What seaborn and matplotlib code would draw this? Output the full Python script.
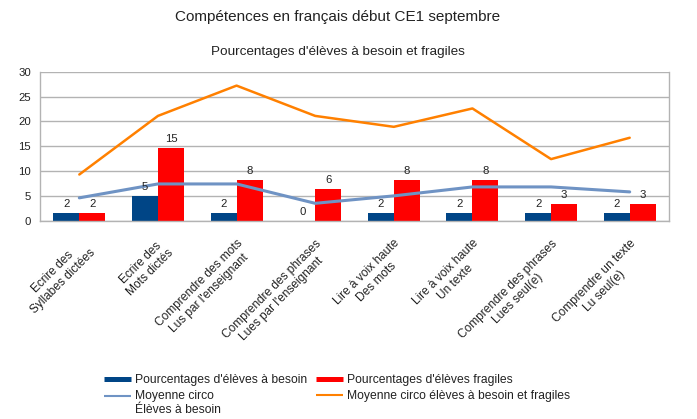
import numpy as np
import pandas as pd
import matplotlib
matplotlib.use("Agg")
import matplotlib.pyplot as plt
import matplotlib.transforms as mtransforms
from matplotlib.lines import Line2D
import seaborn as sns

# Competences evaluated
competences = [
    "Ecrire des\nSyllabes dictées",
    "Ecrire des\nMots dictés",
    "Comprendre des mots\nLus par l'enseignant",
    "Comprendre des phrases\nLues par l'enseignant",
    "Lire à voix haute\nDes mots",
    "Lire à voix haute\nUn texte",
    "Comprendre des phrases\nLues seul(e)",
    "Comprendre un texte\nLu seul(e)",
]

# Class percentages
eleves_besoin = [1.6, 4.9, 1.6, 0.0, 1.6, 1.6, 1.6, 1.6]
eleves_fragiles = [1.6, 14.6, 8.1, 6.4, 8.1, 8.1, 3.3, 3.3]

# District averages
moyenne_besoin = [4.6, 7.4, 7.4, 3.5, 5.0, 6.8, 6.8, 5.8]
moyenne_besoin_fragiles = [9.3, 21.1, 27.2, 21.1, 18.9, 22.6, 12.4, 16.7]

serie_besoin = "Pourcentages d'élèves à besoin"
serie_fragiles = "Pourcentages d'élèves fragiles"
serie_moy_besoin = "Moyenne circo\nÉlèves à besoin"
serie_moy_bf = "Moyenne circo élèves à besoin et fragiles"

y_ticks = [0, 5, 10, 15, 20, 25, 30]

BLUE = "#004586"
RED = "#ff0000"
LINE_BLUE = "#6f93c4"
ORANGE = "#ff8000"
GRID = "#b3b3b3"
TEXT = "#222222"

sns.set_theme(style="white")
plt.rcParams["font.family"] = ["Liberation Sans", "DejaVu Sans"]

df = pd.DataFrame({
    "competence": competences * 2,
    "valeur": eleves_besoin + eleves_fragiles,
    "serie": [serie_besoin] * len(competences) + [serie_fragiles] * len(competences),
})

fig = plt.figure(figsize=(6.97, 4.19), dpi=100)
ax = fig.add_axes([40 / 697, 1 - 220.7 / 419, 629 / 697, 149 / 419])

sns.barplot(data=df, x="competence", y="valeur", hue="serie",
            order=competences, hue_order=[serie_besoin, serie_fragiles],
            palette=[BLUE, RED], saturation=1, width=0.66,
            legend=False, ax=ax, linewidth=0)

pos = np.arange(len(competences))
sns.lineplot(x=pos, y=moyenne_besoin, ax=ax, color=LINE_BLUE, linewidth=2.2,
             legend=False)
sns.lineplot(x=pos, y=moyenne_besoin_fragiles, ax=ax, color=ORANGE,
             linewidth=1.8, legend=False)

for cont in ax.containers:
    ax.bar_label(cont, fmt="%.0f", padding=3, fontsize=8.2, color=TEXT)

# Axes styling
ax.set_xlim(-0.5, len(competences) - 0.5)
ax.set_ylim(0, 30)
ax.set_yticks(y_ticks)
ax.set_xticks(pos)
ax.set_xticks(np.arange(-0.5, len(competences), 1), minor=True)
ax.set_xticklabels(competences, rotation=45, ha="right", va="top",
                   rotation_mode="anchor", fontsize=8.6, color=TEXT)
offset = mtransforms.ScaledTranslation(-5 / 100, 0, fig.dpi_scale_trans)
for lab in ax.get_xticklabels():
    lab.set_multialignment("center")
    lab.set_transform(lab.get_transform() + offset)
ax.tick_params(axis="x", which="major", length=0, pad=12)
ax.tick_params(axis="x", which="minor", length=3.6, color=GRID, width=1)
ax.tick_params(axis="y", length=3.6, color=GRID, width=1, pad=3,
               labelsize=8.2, labelcolor=TEXT)
ax.set_xlabel("")
ax.set_ylabel("")
ax.yaxis.grid(True, color=GRID, linewidth=1)
ax.set_axisbelow(True)
for side in ["left", "right", "bottom"]:
    ax.spines[side].set_color(GRID)
    ax.spines[side].set_linewidth(1)
ax.spines["top"].set_visible(False)

# Titles
fig.text(0.485, 1 - 17.5 / 419, "Compétences en français début CE1 septembre",
         ha="center", va="center", fontsize=11, color=TEXT)
fig.text(0.485, 1 - 52 / 419, "Pourcentages d'élèves à besoin et fragiles",
         ha="center", va="center", fontsize=9.7, color=TEXT)

# Legend
handles = [
    Line2D([0], [0], color=BLUE, linewidth=3.6, solid_capstyle="butt"),
    Line2D([0], [0], color=LINE_BLUE, linewidth=1.5, solid_capstyle="butt"),
    Line2D([0], [0], color=RED, linewidth=3.6, solid_capstyle="butt"),
    Line2D([0], [0], color=ORANGE, linewidth=1.5, solid_capstyle="butt"),
]
labels = [serie_besoin, serie_moy_besoin, serie_fragiles, serie_moy_bf]
leg = fig.legend(handles, labels, ncol=2, loc="upper left",
                 bbox_to_anchor=(104 / 697, 1 - 374 / 419), frameon=False,
                 fontsize=8.7, handlelength=2.2, handletextpad=0.35,
                 columnspacing=0.75, labelspacing=0.35, borderpad=0,
                 borderaxespad=0, labelcolor=TEXT)
# put the two-line entry's handle beside its first line
line_handle = leg.legend_handles[1]
line_handle.set_ydata(np.asarray(line_handle.get_ydata()) + 5)

fig.savefig("out.png", dpi=100)
